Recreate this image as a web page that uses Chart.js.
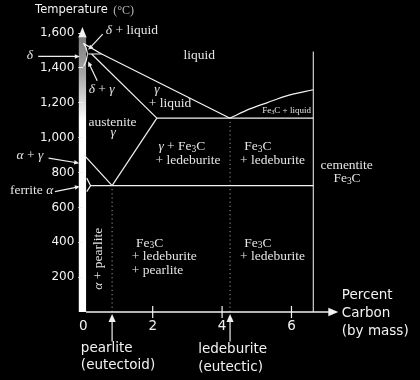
<!DOCTYPE html>
<html><head><meta charset="utf-8">
<script src="https://cdn.jsdelivr.net/npm/chart.js@4.4.1/dist/chart.umd.min.js"></script>
<style>html,body{margin:0;padding:0;background:#000;}#wrap{width:420px;height:380px;position:relative;}</style>
</head><body><div id="wrap"><canvas id="c"></canvas></div>
<script>
// ---------- data: percent carbon (x) and temperature in °C (y) ----------
const xTickValues = [0, 2, 4, 6];
const yTickValues = [200, 400, 600, 800, 1000, 1200, 1400, 1600];
const liquidusC = [0, 0.53, 4.23];
const liquidusT = [1541, 1480, 1112];
const cementiteLiquidusC = [4.23, 4.8, 5.29, 5.86, 6.63];
const cementiteLiquidusT = [1112, 1165, 1200, 1240, 1275];
const eutecticC = [2.12, 6.63];
const eutecticT = [1112, 1112];
const peritecticC = [0.14, 0.53];
const peritecticT = [1480, 1480];
const austeniteSolidusC = [0.24, 2.12];
const austeniteSolidusT = [1480, 1112];
const deltaC = [0, 0.08, 0.13, 0.08, 0];
const deltaT = [1541, 1515, 1480, 1440, 1408];
const acmC = [0.83, 2.12];
const acmT = [725, 1112];
const a3C = [0, 0.83];
const a3T = [905, 725];
const eutectoidC = [0.21, 6.63];
const eutectoidT = [725, 725];
const ferriteC = [0.1, 0.21, 0.1];
const ferriteT = [768, 725, 691];
const cementiteC = [6.63, 6.63];
const cementiteT = [0, 1495];
const pearliteMarkC = [0.83, 0.83];
const pearliteMarkT = [0, 725];
const ledeburiteMarkC = [4.23, 4.23];
const ledeburiteMarkT = [0, 1112];

// region labels: text, anchor (percent C, °C), alignment
const regionText = ['δ + liquid','liquid','δ','δ + γ','γ','+ liquid','austenite','γ',
  'γ + Fe_3C','+ ledeburite','Fe_3C','+ ledeburite','cementite','Fe_3C',
  'Fe_3C','+ ledeburite','+ pearlite','Fe_3C','+ ledeburite','Fe_3C + liquid','α + γ','ferrite α'];
const regionC = [0.65,3.34,-1.54,0.53,2.12,2.5,0.84,0.86,2.84,3.02,4.64,4.52,7.59,7.6,1.52,1.4,1.4,4.64,4.52,6.56,-1.54,-1.49];
const regionT = [1613,1470,1470,1275,1279,1195,1090,1032,950,867,950,867,840,764,395,317,240,395,317,1154,896,695];
const regionAlign = ['left','center','center','center','center','center','center','center',
  'center','center','left','left','center','center','left','left','left','left','left','right','center','center'];
const rotatedText = 'α + pearlite', rotatedC = 0.45, rotatedT = 305;

// pointer arrows: from (C,T) to (C,T)
const arrowFromC = [-1.3, 0.4, 0.56, -1.0, -0.82, 0.83, 4.23];
const arrowFromT = [1466, 1326, 1594, 883, 691, -169, -169];
const arrowToC = [-0.1, 0.14, 0.14, -0.12, -0.1, 0.83, 4.23];
const arrowToT = [1466, 1437, 1504, 854, 720, -12, -12];

// sans captions around the axes
const captionText = ['Percent','Carbon','(by mass)','pearlite','(eutectoid)','ledeburite','(eutectic)'];
const captionC = [7.45,7.45,7.45,-0.07,-0.07,3.31,3.31];
const captionT = [93,-10,-112,-207,-307,-217,-316];

function pts(cs, ts){ return cs.map((c,i)=>({x:c, y:ts[i]})); }
const solid = (cs,ts)=>({data:pts(cs,ts), showLine:true, borderColor:'#f2f2f2', borderWidth:1.2, pointRadius:0, fill:false, tension:0});
const dotted = (cs,ts)=>({data:pts(cs,ts), showLine:true, borderColor:'#9a9a9a', borderWidth:1, borderDash:[1.2,3], pointRadius:0, fill:false});

const SERIF = '"Liberation Serif", "Times New Roman", serif';
const SANS = '"DejaVu Sans", sans-serif';

function drawRich(ctx, str, x, y, align, size, color){
  const toks=[];
  for(let i=0;i<str.length;i++){
    const ch=str[i];
    if(ch==='_'){ toks.push({s:str[i+1],k:'sub'}); i++; continue; }
    if('δγα'.includes(ch)){ toks.push({s:ch,k:'it'}); continue; }
    if(toks.length && toks[toks.length-1].k==='n') toks[toks.length-1].s+=ch; else toks.push({s:ch,k:'n'});
  }
  const f = k => k==='it' ? `italic ${size}px ${SERIF}` : k==='sub' ? `${(size*0.7).toFixed(1)}px ${SERIF}` : `${size}px ${SERIF}`;
  let w=0; toks.forEach(t=>{ctx.font=f(t.k); t.w=ctx.measureText(t.s).width; w+=t.w;});
  let x0 = align==='left'?x:(align==='right'?x-w:x-w/2);
  ctx.fillStyle=color; ctx.textBaseline='middle'; ctx.textAlign='left';
  toks.forEach(t=>{ctx.font=f(t.k); ctx.fillText(t.s, x0, t.k==='sub'? y+size*0.2 : y); x0+=t.w;});
}
function arrow(ctx, x1,y1,x2,y2, color, head){
  ctx.strokeStyle=color; ctx.fillStyle=color; ctx.lineWidth=1.2;
  const a=Math.atan2(y2-y1,x2-x1);
  ctx.beginPath(); ctx.moveTo(x1,y1); ctx.lineTo(x2-Math.cos(a)*head*0.8,y2-Math.sin(a)*head*0.8); ctx.stroke();
  ctx.beginPath(); ctx.moveTo(x2,y2);
  ctx.lineTo(x2-Math.cos(a)*head+Math.sin(a)*head*0.45, y2-Math.sin(a)*head-Math.cos(a)*head*0.45);
  ctx.lineTo(x2-Math.cos(a)*head-Math.sin(a)*head*0.45, y2-Math.sin(a)*head+Math.cos(a)*head*0.45);
  ctx.closePath(); ctx.fill();
}

const decor = {
  id:'decor',
  beforeDraw(chart){
    const ctx=chart.ctx, xs=chart.scales.x, ys=chart.scales.y, a=chart.chartArea;
    const xl = xs.getPixelForValue(-0.13), xr = xs.getPixelForValue(0.08);
    const top = ys.getPixelForValue(1575), bot = ys.getPixelForValue(0);
    const g = ctx.createLinearGradient(0, top, 0, ys.getPixelForValue(1100));
    g.addColorStop(0,'#7c7c7c'); g.addColorStop(0.45,'#a8a8a8'); g.addColorStop(1,'#ffffff');
    ctx.save();
    ctx.fillStyle=g; ctx.fillRect(xl, top, xr-xl, bot-top);
    const cx=(xl+xr)/2;
    ctx.fillStyle='#f0f0f0'; ctx.beginPath(); ctx.moveTo(cx, a.top); ctx.lineTo(cx-4.2, top); ctx.lineTo(cx+4.2, top); ctx.closePath(); ctx.fill();
    ctx.restore();
  },
  afterDatasetsDraw(chart){
    const ctx=chart.ctx, xs=chart.scales.x, ys=chart.scales.y, a=chart.chartArea;
    const X=v=>xs.getPixelForValue(v), Y=v=>ys.getPixelForValue(v);
    ctx.save();
    // x axis with arrow
    const y0=Y(0);
    ctx.strokeStyle='#f2f2f2'; ctx.lineWidth=1.5;
    ctx.beginPath(); ctx.moveTo(X(0.08), y0); ctx.lineTo(a.right-8, y0); ctx.stroke();
    ctx.fillStyle='#f2f2f2'; ctx.beginPath(); ctx.moveTo(a.right,y0); ctx.lineTo(a.right-10,y0-4.2); ctx.lineTo(a.right-10,y0+4.2); ctx.closePath(); ctx.fill();
    ctx.lineWidth=1.2;
    xTickValues.forEach(v=>{ if(v===0) return; ctx.beginPath(); ctx.moveTo(X(v), y0-6); ctx.lineTo(X(v), y0+6); ctx.stroke(); });
    // region labels
    regionText.forEach((t,i)=>{
      const sz = t==='Fe_3C + liquid' ? 9 : 13.5;
      drawRich(ctx, t, X(regionC[i]), Y(regionT[i]), regionAlign[i], sz, '#e4e4e4');
    });
    ctx.save(); ctx.translate(X(rotatedC), Y(rotatedT)); ctx.rotate(-Math.PI/2);
    drawRich(ctx, rotatedText, 0, 0, 'center', 13.5, '#e4e4e4'); ctx.restore();
    // arrows
    arrowFromC.forEach((c,i)=>{
      const big = i>=5;
      arrow(ctx, X(c), Y(arrowFromT[i]), X(arrowToC[i]), Y(arrowToT[i]), '#eeeeee', big?8:5);
    });
    // captions
    ctx.fillStyle='#f2f2f2'; ctx.font=`13.5px ${SANS}`; ctx.textAlign='left'; ctx.textBaseline='middle';
    captionText.forEach((t,i)=>ctx.fillText(t, X(captionC[i]), Y(captionT[i])));
    ctx.font=`11.5px ${SANS}`; ctx.fillText('Temperature', X(-1.39), Y(1730));
    ctx.fillStyle='#b8b8b8'; ctx.font=`12px ${SERIF}`; ctx.fillText('(°C)', X(0.86), Y(1730));
    ctx.restore();
  }
};

new Chart(document.getElementById('c'), {
  type:'scatter',
  data:{datasets:[
    solid(liquidusC, liquidusT),
    Object.assign(solid(cementiteLiquidusC, cementiteLiquidusT), {cubicInterpolationMode:'monotone'}),
    solid(eutecticC, eutecticT),
    solid(peritecticC, peritecticT), solid(austeniteSolidusC, austeniteSolidusT),
    Object.assign(solid(deltaC, deltaT), {cubicInterpolationMode:'monotone'}),
    solid(acmC, acmT), solid(a3C, a3T), solid(eutectoidC, eutectoidT), solid(ferriteC, ferriteT),
    Object.assign(solid(cementiteC, cementiteT), {borderColor:'#cfcfcf'}),
    dotted(pearliteMarkC, pearliteMarkT), dotted(ledeburiteMarkC, ledeburiteMarkT)
  ]},
  options:{
    responsive:true, maintainAspectRatio:false, animation:false,
    layout:{padding:{left:40, top:27, right:81.7, bottom:0}},
    plugins:{legend:{display:false}, tooltip:{enabled:false}},
    scales:{
      x:{type:'linear', min:0, max:7.35, border:{display:false},
        grid:{display:false, drawTicks:false},
        afterBuildTicks:s=>{ s.ticks = xTickValues.map(v=>({value:v})); },
        ticks:{color:'#f2f2f2', font:{family:'DejaVu Sans', size:13.5}, padding:6, maxRotation:0, autoSkip:false},
        afterFit:s=>{ s.height=68; }
      },
      y:{type:'linear', min:0, max:1635, border:{display:false},
        grid:{display:true, drawOnChartArea:false, drawTicks:true, tickLength:5, color:'#f2f2f2', lineWidth:1},
        afterBuildTicks:s=>{ s.ticks = yTickValues.map(v=>({value:v})); },
        ticks:{color:'#f2f2f2', font:{family:'DejaVu Sans', size:12}, padding:4, autoSkip:false,
          callback:v=>v.toLocaleString('en-US')},
        afterFit:s=>{ s.width=43.3; }
      }
    }
  },
  plugins:[decor]
});
</script></body></html>
